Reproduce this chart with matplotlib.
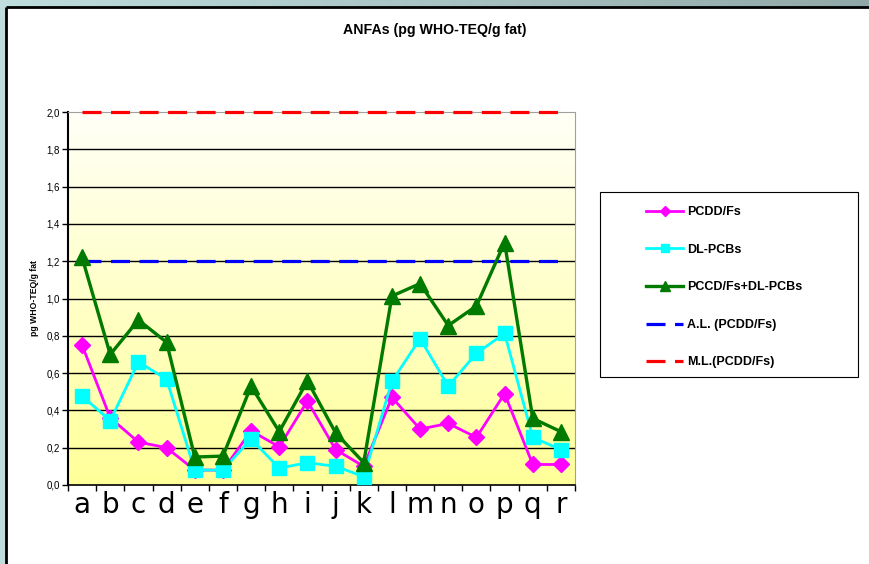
import numpy as np
import matplotlib.pyplot as plt
from matplotlib.patches import Rectangle
from matplotlib.lines import Line2D

# Datos
categorias = list("abcdefghijklmnopqr")
pcdd = [0.75, 0.36, 0.23, 0.20, 0.08, 0.08, 0.29, 0.205, 0.45, 0.19, 0.10,
        0.47, 0.30, 0.33, 0.255, 0.49, 0.11, 0.11]
dl_pcb = [0.477, 0.345, 0.66, 0.567, 0.08, 0.08, 0.247, 0.09, 0.12, 0.10, 0.045,
          0.555, 0.785, 0.53, 0.706, 0.813, 0.255, 0.19]
suma = [1.22, 0.70, 0.885, 0.765, 0.15, 0.155, 0.53, 0.286, 0.558, 0.28, 0.12,
        1.013, 1.08, 0.855, 0.96, 1.30, 0.357, 0.286]
limite_al = 1.2
limite_ml = 2.0
yticks = [0.0, 0.2, 0.4, 0.6, 0.8, 1.0, 1.2, 1.4, 1.6, 1.8, 2.0]

W, H = 869, 564
fig = plt.figure(figsize=(W / 100, H / 100), dpi=100)

# Fondo de la diapositiva
bg = fig.add_axes([0, 0, 1, 1])
bg.axis("off")
grad = np.linspace(0, 1, 256).reshape(1, -1)
c1 = np.array([0.75, 0.87, 0.87])
c2 = np.array([0.57, 0.66, 0.66])
img = c1[None, None, :] * (1 - grad[..., None]) + c2[None, None, :] * grad[..., None]
bg.imshow(img, extent=[0, 1, 0, 1], aspect="auto", transform=bg.transAxes)
bg.set_xlim(0, 1)
bg.set_ylim(0, 1)
x0, y1 = 6 / W, 1 - 7 / H
bg.add_patch(Rectangle((x0, 0), 1 - x0, y1, facecolor="white", edgecolor="none",
                       transform=bg.transAxes))
bg.plot([x0, x0], [0, y1], color="black", lw=2, transform=bg.transAxes, solid_capstyle="butt")
bg.plot([x0, 1], [y1, y1], color="black", lw=2, transform=bg.transAxes, solid_capstyle="butt")

# Ejes principales
ax = fig.add_axes([68 / W, 79 / H, 507 / W, 373 / H])
x = np.arange(len(categorias))

# degradado amarillo del área de trazado
g = np.linspace(0, 1, 256).reshape(-1, 1)
top = np.array([1.0, 1.0, 0.97])
bot = np.array([1.0, 1.0, 0.60])
area = top[None, None, :] * (1 - g[..., None]) + bot[None, None, :] * g[..., None]
ax.imshow(area, extent=[-0.5, 17.5, 0, 2.0], aspect="auto", zorder=0)

for yv in yticks[1:-1]:
    ax.axhline(yv, color="black", lw=1, zorder=1)

guion = (5.95, 2.98)
ax.plot(x, [limite_ml] * len(x), color="#ff0000", lw=2.3, dashes=guion,
        zorder=6, clip_on=False)
ax.plot(x, [limite_al] * len(x), color="#0000ff", lw=2.3, dashes=guion,
        zorder=2)

ax.plot(x, pcdd, color="#ff00ff", lw=2, marker="D", ms=8.5, zorder=3, clip_on=False)
ax.plot(x, dl_pcb, color="#00ffff", lw=2, marker="s", ms=10.5, zorder=4, clip_on=False)
ax.plot(x, suma, color="#007a00", lw=2.4, marker="^", ms=11.5, zorder=5, clip_on=False)

ax.set_xlim(-0.5, 17.5)
ax.set_ylim(0, 2.0)
ax.set_yticks(yticks)
ax.set_yticklabels([f"{v:.1f}".replace(".", ",") for v in yticks],
                   fontsize=7, family="Liberation Sans")
ax.set_xticks(x)
ax.set_xticklabels(categorias, fontsize=20, family="DejaVu Sans")
ax.set_xticks(np.arange(-0.5, 18, 1), minor=True)
ax.tick_params(axis="x", which="major", length=0, pad=4)
ax.tick_params(axis="x", which="minor", length=4, width=1, direction="out")
ax.tick_params(axis="y", length=4, width=1, direction="out", pad=2)

ax.spines["left"].set_color("black")
ax.spines["left"].set_linewidth(1.5)
ax.spines["bottom"].set_color("black")
ax.spines["bottom"].set_linewidth(1.2)
ax.spines["top"].set_color("#a0a0a0")
ax.spines["right"].set_color("#a0a0a0")

ax.set_ylabel("pg WHO-TEQ/g fat", fontsize=6.2, fontweight="bold",
              family="Liberation Sans", labelpad=5)

fig.text(435 / W, 1 - 30 / H, "ANFAs (pg WHO-TEQ/g fat)", ha="center", va="center",
         fontsize=10.2, fontweight="bold", family="Liberation Sans")

# Leyenda
fig.patches.append(Rectangle((600 / W, 1 - 377 / H), 258 / W, 185 / H,
                             facecolor="white", edgecolor="black", lw=0.8,
                             transform=fig.transFigure, figure=fig))
handles = [
    Line2D([], [], color="#ff00ff", lw=2, marker="D", ms=5),
    Line2D([], [], color="#00ffff", lw=2, marker="s", ms=6),
    Line2D([], [], color="#007a00", lw=2.4, marker="^", ms=6.5),
    Line2D([], [], color="#0000ff", lw=2.3, dashes=guion),
    Line2D([], [], color="#ff0000", lw=2.3, dashes=guion),
]
labels = ["PCDD/Fs", "DL-PCBs", "PCCD/Fs+DL-PCBs", "A.L. (PCDD/Fs)", "M.L.(PCDD/Fs)"]
fig.legend(handles, labels, loc="upper left", bbox_to_anchor=(646 / W, 1 - 206 / H),
           frameon=False, borderpad=0, borderaxespad=0, handlelength=2.96,
           handletextpad=0.32, labelspacing=2.05,
           prop={"family": "Liberation Sans", "weight": "bold", "size": 9})

fig.savefig("out.png", dpi=100)
